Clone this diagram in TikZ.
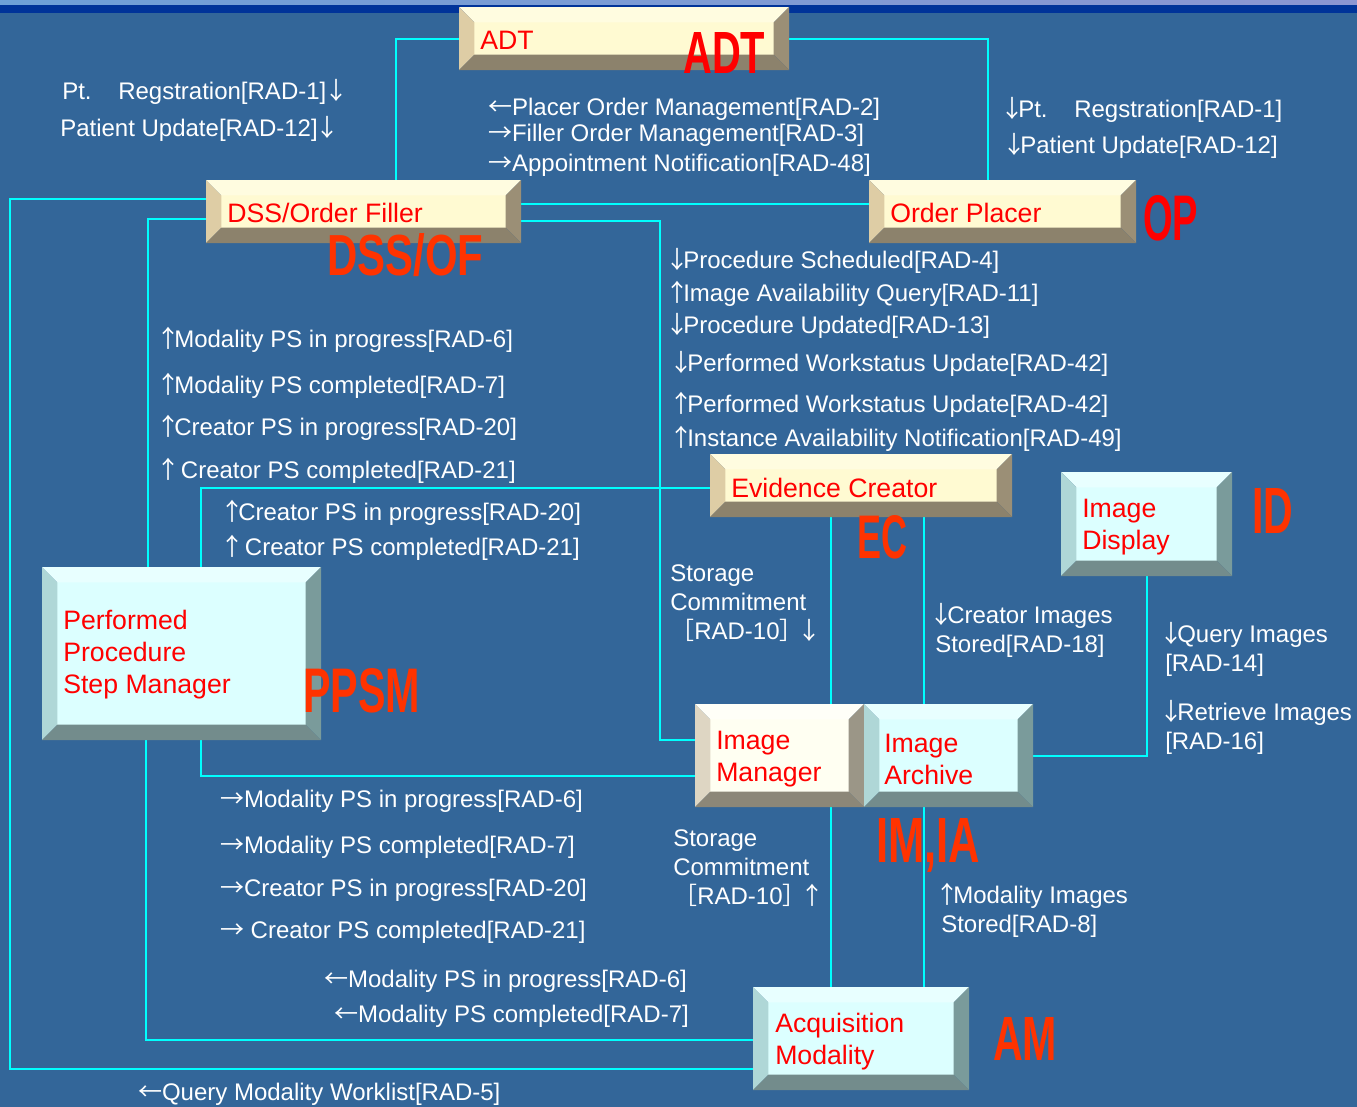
\documentclass[tikz,border=0pt]{standalone}
\usepackage{fontspec}
\usepackage{graphicx}
\setmainfont{Liberation Sans}
\newfontfamily\cjk{Noto Sans CJK JP}
\usetikzlibrary{calc,fit}

% slide colours
\definecolor{slide}{RGB}{51,102,153}
\definecolor{band}{RGB}{0,51,153}
\definecolor{stripL}{RGB}{110,160,215}
\definecolor{stripR}{RGB}{140,150,210}
\definecolor{wire}{RGB}{0,255,255}
\definecolor{boxred}{RGB}{255,0,0}
\definecolor{tagred}{RGB}{255,51,0}
% cream bevel palette
\definecolor{yFace}{RGB}{255,250,210}
\definecolor{yTop}{RGB}{255,252,224}
\definecolor{yLeft}{RGB}{222,205,165}
\definecolor{yRight}{RGB}{155,143,118}
\definecolor{yBottom}{RGB}{140,130,108}
% ivory bevel palette
\definecolor{vFace}{RGB}{255,255,242}
\definecolor{vTop}{RGB}{255,255,248}
\definecolor{vLeft}{RGB}{222,214,195}
\definecolor{vRight}{RGB}{155,150,135}
\definecolor{vBottom}{RGB}{140,135,120}
% cyan bevel palette
\definecolor{cFace}{RGB}{220,255,255}
\definecolor{cTop}{RGB}{232,255,255}
\definecolor{cLeft}{RGB}{175,215,215}
\definecolor{cRight}{RGB}{122,155,155}
\definecolor{cBottom}{RGB}{115,140,140}

\pgfdeclarelayer{slidelayer}
\pgfdeclarelayer{wirelayer}
\pgfsetlayers{slidelayer,wirelayer,main}

\newdimen\pxu \pxu=0.75pt
\newdimen\bevw \bevw=11.5pt
% heavy condensed abbreviation: width, cap height (px), text
\newcommand\capsfit[3]{\resizebox{#1\pxu}{#2\pxu}{\bfseries #3}}
\newcommand\fwbr[1]{{\cjk #1}}
% thin arrows for transaction directions
\newcommand\aup{\makebox[0.5em]{\cjk ↑}}
\newcommand\adn{\makebox[0.5em]{\cjk ↓}}
\newcommand\alt{\makebox[0.95em]{\cjk ←}}
\newcommand\art{\makebox[0.95em]{\cjk →}}

\tikzset{
  bevelbox/.style n args={5}{inner sep=0pt, outer sep=0pt, draw=none,
    path picture={
      \path (path picture bounding box.north west) coordinate (bNW)
            (path picture bounding box.north east) coordinate (bNE)
            (path picture bounding box.south east) coordinate (bSE)
            (path picture bounding box.south west) coordinate (bSW);
      \path ($(bNW)+(\bevw,-\bevw)$) coordinate (iNW)
            ($(bNE)+(-\bevw,-\bevw)$) coordinate (iNE)
            ($(bSE)+(-\bevw,\bevw)$) coordinate (iSE)
            ($(bSW)+(\bevw,\bevw)$) coordinate (iSW);
      \fill[#1] (iNW) rectangle (iSE);
      \fill[#2] (bNW) -- (bNE) -- (iNE) -- (iNW) -- cycle;
      \fill[#3] (bNW) -- (iNW) -- (iSW) -- (bSW) -- cycle;
      \fill[#4] (bNE) -- (bSE) -- (iSE) -- (iNE) -- cycle;
      \fill[#5] (bSW) -- (iSW) -- (iSE) -- (bSE) -- cycle;
    }},
  creambox/.style={bevelbox={yFace}{yTop}{yLeft}{yRight}{yBottom}},
  ivorybox/.style={bevelbox={vFace}{vTop}{vLeft}{vRight}{vBottom}},
  cyanbox/.style={bevelbox={cFace}{cTop}{cLeft}{cRight}{cBottom}},
  boxtext/.style={anchor=west, inner sep=0pt, text=boxred, align=left,
    font=\fontsize{20pt}{24pt}\selectfont},
  msg/.style={anchor=west, inner sep=0pt, text=white, align=left,
    font=\fontsize{18pt}{21.75pt}\selectfont},
  tag/.style={anchor=north west, inner sep=0pt, text=tagred},
  link/.style={draw=wire, line width=1.5pt},
}

\begin{document}
\begin{tikzpicture}[x=0.75pt,y=-0.75pt]
\useasboundingbox (0,0) rectangle (1357,1107);

% slide background and header strip
\begin{pgfonlayer}{slidelayer}
\fill[slide] (0,0) rectangle (1357,1107);
\shade[left color=stripL, right color=stripR] (0,0) rectangle (1357,5);
\fill[band] (0,5) rectangle (1357,13);
\end{pgfonlayer}

% connector routing columns and rows
\coordinate (xA) at (396,0);
\coordinate (xB) at (988,0);
\coordinate (yC) at (0,204);
\coordinate (xD) at (660,0);
\coordinate (yD1) at (0,221);
\coordinate (yD2) at (0,740);
\coordinate (xE) at (10,0);
\coordinate (yE1) at (0,199);
\coordinate (yE2) at (0,1069);
\coordinate (xF) at (148,0);
\coordinate (yF) at (0,219);
\coordinate (xG) at (201,0);
\coordinate (yG) at (0,488);
\coordinate (xH) at (146,0);
\coordinate (yH) at (0,1040);
\coordinate (yI) at (0,776);
\coordinate (xJ) at (831,0);
\coordinate (xK) at (924,0);
\coordinate (xL) at (1147,0);
\coordinate (yL) at (0,756);

% actor boxes
\path
  node[creambox, fit={(459,7) (789,70)}] (adt) {}
  node[creambox, fit={(206,180) (521,243)}] (dss) {}
  node[creambox, fit={(869,180) (1136,243)}] (op) {}
  node[creambox, fit={(710,454) (1012,517)}] (ec) {}
  node[cyanbox, fit={(1061,472) (1232,576)}] (id) {}
  node[cyanbox, fit={(42,567) (321,740)}] (ppsm) {}
  node[ivorybox, fit={(695,704) (864,807)}] (im) {}
  node[cyanbox, fit={(864,704) (1033,807)}] (ia) {}
  node[cyanbox, fit={(753,987) (969,1090)}] (am) {};

% box captions
\node[boxtext] (adtT) at (480,40) {ADT};
\node[boxtext] (dssT) at (227,213) {DSS/Order Filler};
\node[boxtext] (opT) at (890,213) {Order Placer};
\node[boxtext] (ecT) at (731,488) {Evidence Creator};
\node[boxtext] (idT) at (1082,527) {Image\\Display};
\node[boxtext] (ppsmT) at (63,655) {Performed\\Procedure\\Step Manager};
\node[boxtext] (imT) at (716,759) {Image\\Manager};
\node[boxtext] (iaT) at (884,759) {Image\\Archive};
\node[boxtext] (amT) at (775,1042) {Acquisition\\Modality};

% actor abbreviations
\node[tag, text=boxred] (adtA) at (683,32) {\capsfit{82}{41}{ADT}};
\node[tag] (dssA) at (327,233) {\capsfit{156}{42}{DSS/OF}};
\node[tag, text=boxred] (opA) at (1143,195) {\capsfit{55}{45}{OP}};
\node[tag] (ecA) at (857,515) {\capsfit{50}{43}{EC}};
\node[tag] (idA) at (1252,488) {\capsfit{41}{45}{ID}};
\node[tag] (ppsmA) at (303,668) {\capsfit{117}{44}{PPSM}};
\node[tag] (imiaA) at (876,818) {\capsfit{104}{44}{IM,IA}};
\node[tag] (amA) at (993,1017) {\capsfit{64}{43}{AM}};

% connectors, beneath the boxes
\begin{pgfonlayer}{wirelayer}
\draw[link] (adt.west) -| (xA |- dss.north);
\draw[link] (adt.east) -| (xB |- op.north);
\draw[link] (dss.east |- yC) -- (op.west |- yC);
\draw[link] (dss.east |- yD1) -| (xD |- yD2) -- (im.west |- yD2);
\draw[link] (dss.west |- yE1) -| (xE |- yE2) -- (am.west |- yE2);
\draw[link] (dss.west |- yF) -| (xF |- ppsm.north);
\draw[link] (xG |- ppsm.north) |- (ec.west |- yG);
\draw[link] (xH |- ppsm.south) |- (am.west |- yH);
\draw[link] (xG |- ppsm.south) |- (im.west |- yI);
\draw[link] (xJ |- ec.south) -- (xJ |- im.north);
\draw[link] (xJ |- im.south) -- (xJ |- am.north);
\draw[link] (xK |- ec.south) -- (xK |- ia.north);
\draw[link] (xK |- ia.south) -- (xK |- am.north);
\draw[link] (xL |- id.south) |- (ia.east |- yL);
\end{pgfonlayer}

% transaction labels
\node[msg] (m1) at (62,92) {Pt.\hspace{20pt}Regstration[RAD-1]\,\adn};
\node[msg] (m2) at (60,129) {Patient Update[RAD-12]\,\adn};
\node[msg] (m3) at (489,109) {\alt Placer Order Management[RAD-2]};
\node[msg] (m4) at (489,135) {\art Filler Order Management[RAD-3]};
\node[msg] (m5) at (489,165) {\art Appointment Notification[RAD-48]};
\node[msg] (m6) at (1006,110) {\adn Pt.\hspace{20pt}Regstration[RAD-1]};
\node[msg] (m7) at (1008,146) {\adn Patient Update[RAD-12]};
\node[msg] (m8) at (671,261) {\adn Procedure Scheduled[RAD-4]};
\node[msg] (m9) at (671,294) {\aup Image Availability Query[RAD-11]};
\node[msg] (m10) at (671,326) {\adn Procedure Updated[RAD-13]};
\node[msg] (m11) at (675,364) {\adn Performed Workstatus Update[RAD-42]};
\node[msg] (m12) at (675,405) {\aup Performed Workstatus Update[RAD-42]};
\node[msg] (m13) at (675,439) {\aup Instance Availability Notification[RAD-49]};
\node[msg] (m14) at (162,340) {\aup Modality PS in progress[RAD-6]};
\node[msg] (m15) at (162,386) {\aup Modality PS completed[RAD-7]};
\node[msg] (m16) at (162,428) {\aup Creator PS in progress[RAD-20]};
\node[msg] (m17) at (162,471) {\aup\ Creator PS completed[RAD-21]};
\node[msg] (m18) at (226,513) {\aup Creator PS in progress[RAD-20]};
\node[msg] (m19) at (226,548) {\aup\ Creator PS completed[RAD-21]};
\node[msg] (m20) at (670,603) {Storage\\Commitment\\\fwbr{［}RAD-10\fwbr{］}\adn};
\node[msg] (m21) at (935,630) {\adn Creator Images\\Stored[RAD-18]};
\node[msg] (m22) at (1165,649) {\adn Query Images\\{[}RAD-14]};
\node[msg] (m23) at (1165,727) {\adn Retrieve Images\\{[}RAD-16]};
\node[msg] (m24) at (221,801) {\art Modality PS in progress[RAD-6]};
\node[msg] (m25) at (221,847) {\art Modality PS completed[RAD-7]};
\node[msg] (m26) at (221,890) {\art Creator PS in progress[RAD-20]};
\node[msg] (m27) at (221,932) {\art\ Creator PS completed[RAD-21]};
\node[msg] (m28) at (673,868) {Storage\\Commitment\\\fwbr{［}RAD-10\fwbr{］}\aup};
\node[msg] (m29) at (941,910) {\aup Modality Images\\Stored[RAD-8]};
\node[msg] (m30) at (325,981) {\alt Modality PS in progress[RAD-6]};
\node[msg] (m31) at (335,1016) {\alt Modality PS completed[RAD-7]};
\node[msg] (m32) at (139,1094) {\alt Query Modality Worklist[RAD-5]};
\end{tikzpicture}%
\end{document}
